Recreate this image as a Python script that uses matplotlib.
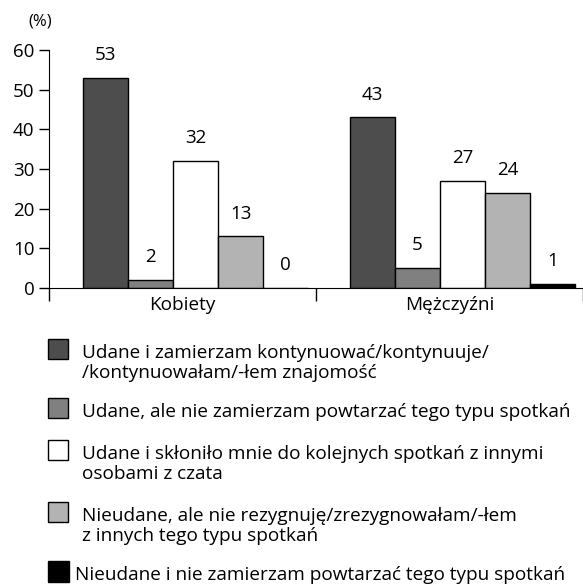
import matplotlib
matplotlib.use("Agg")
import matplotlib.pyplot as plt
from matplotlib.patches import Rectangle
import numpy as np

plt.rcParams["font.family"] = ["Open Sans", "DejaVu Sans"]

groups = ["Kobiety", "Mężczyźni"]
answers = [
    "Udane i zamierzam kontynuować/kontynuuje/\n/kontynuowałam/-łem znajomość",
    "Udane, ale nie zamierzam powtarzać tego typu spotkań",
    "Udane i skłoniło mnie do kolejnych spotkań z innymi\nosobami z czata",
    "Nieudane, ale nie rezygnuję/zrezygnowałam/-łem\nz innych tego typu spotkań",
    "Nieudane i nie zamierzam powtarzać tego typu spotkań",
]
kobiety = [53, 2, 32, 13, 0]
mezczyzni = [43, 5, 27, 24, 1]
colors = ["#4d4d4d", "#808080", "#ffffff", "#b3b3b3", "#000000"]

W, H = 583, 584
fig = plt.figure(figsize=(W / 100, H / 100), dpi=100)
ax = fig.add_axes([49 / W, 1 - 288 / H, 1 - 49 / W, (288 - 50) / H])

values = np.array([kobiety, mezczyzni])
bw = 0.169
start = 0.126
for k in range(len(answers)):
    xs = np.arange(len(groups)) + start + k * bw
    bars = ax.bar(xs, values[:, k], width=bw, align="edge", color=colors[k],
                  edgecolor="black", linewidth=1.0)
    for b, v in zip(bars, values[:, k]):
        ax.annotate(str(v), (b.get_x() + bw / 2, v), xytext=(0, 10),
                    textcoords="offset points", ha="center", va="bottom",
                    fontsize=13.5)

ax.set_xlim(0, (W - 49) / 269)
ax.set_ylim(0, 60)
ax.set_yticks(range(0, 61, 10))
ax.tick_params(axis="y", labelsize=13.5, length=7, width=1)
ax.set_xticks([0, 1, 2])
ax.set_xticklabels([])
ax.tick_params(axis="x", which="major", length=9, width=1)
ax.set_xticks([0.5, 1.5], minor=True)
ax.set_xticklabels(groups, minor=True, fontsize=13.7)
ax.tick_params(axis="x", which="minor", length=0, pad=6)
for s in ["top", "right"]:
    ax.spines[s].set_visible(False)
fig.text(28 / W, 1 - 22 / H, "(%)", fontsize=12, va="center")

# legend drawn by hand so the swatch sits at the first line of each entry
tops = [339, 398, 440, 502, 561]
for k, (lab, top) in enumerate(zip(answers, tops)):
    tx = 82 if k < 4 else 75
    size = 20 if k < 4 else 21
    fig.add_artist(Rectangle((48 / W, 1 - (top + size) / H), size / W, size / H,
                             transform=fig.transFigure, facecolor=colors[k],
                             edgecolor="black", linewidth=1.0))
    for i, line in enumerate(lab.split("\n")):
        fig.text(tx / W, 1 - (top + 19 + 20 * i) / H, line, fontsize=13.7,
                 va="baseline")

fig.savefig("out.png", dpi=100)
